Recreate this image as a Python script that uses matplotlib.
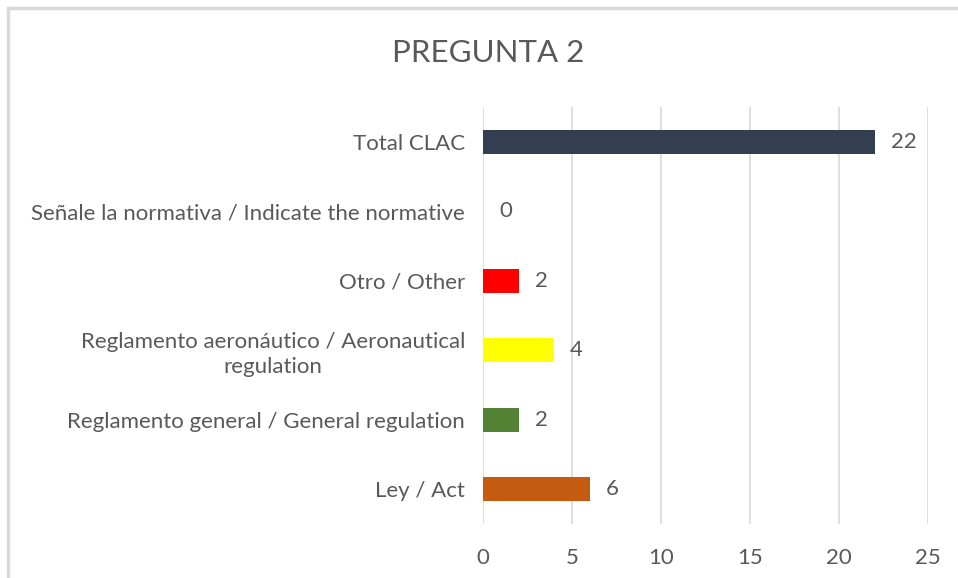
import matplotlib.pyplot as plt
from matplotlib.lines import Line2D

# data, bottom to top
categories = ['Ley / Act',
              'Reglamento general / General regulation',
              'Reglamento aeronáutico / Aeronautical\nregulation',
              'Otro / Other',
              'Señale la normativa / Indicate the normative',
              'Total CLAC']
values = [6, 2, 4, 2, 0, 22]
colors = ['#C55A11', '#548235', '#FFFF00', '#FF0000', '#FFFFFF', '#333F50']
xticks = [0, 5, 10, 15, 20, 25]

txt = '#595959'
plt.rcParams['font.family'] = ['Lato', 'DejaVu Sans']

fig = plt.figure(figsize=(9.58, 5.78), dpi=100)
ax = fig.add_axes([483/958, 1 - 524/578, 445/958, 417/578])

ypos = range(len(categories))
ax.barh(ypos, values, height=0.35, color=colors, zorder=3)
for y, v in zip(ypos, values):
    ax.text(v + 0.9, y, str(v), va='center', ha='left', fontsize=16, color=txt)

ax.set_xlim(0, 25)
ax.set_ylim(-0.5, len(categories) - 0.5)
ax.set_xticks(xticks)
ax.set_yticks(list(ypos))
ax.set_yticklabels(categories, multialignment='center', linespacing=1.3)
ax.tick_params(axis='both', length=0, colors=txt, labelsize=16)
ax.tick_params(axis='y', pad=13)
ax.tick_params(axis='x', pad=17)
ax.grid(axis='x', color='#D9D9D9', linewidth=1.2, zorder=0)
for s in ax.spines.values():
    s.set_visible(False)

fig.text(488/958, 1 - 53/578, 'PREGUNTA 2', ha='center', va='center',
         fontsize=22.5, color=txt)

# chart frame (only top and left edges visible)
fig.add_artist(Line2D([8/958, 8/958], [0, 1 - 8/578], color='#D9D9D9', lw=2.5))
fig.add_artist(Line2D([8/958, 1], [1 - 8/578, 1 - 8/578], color='#D9D9D9', lw=2.5))

fig.savefig('out.png', dpi=100)
